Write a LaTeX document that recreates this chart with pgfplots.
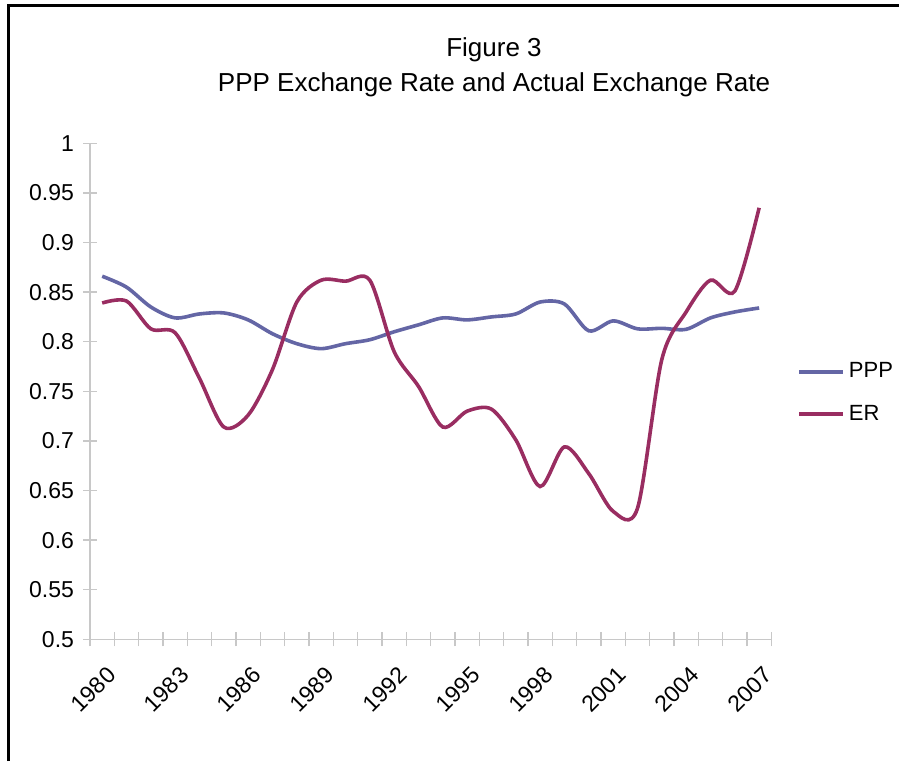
\documentclass[border=0pt]{standalone}
\usepackage{pgfplots}
\pgfplotsset{compat=1.18}
\usepackage{fontspec}
\setmainfont{Liberation Sans}
\definecolor{pppc}{RGB}{100,102,165}
\definecolor{erc}{RGB}{153,45,97}
\definecolor{axc}{RGB}{200,200,200}
\begin{document}
\begin{tikzpicture}
\path[use as bounding box] (0,0) rectangle (449.5pt,380.5pt);
\draw[line width=1.4pt] (4.25pt,0) -- (4.25pt,377.75pt) -- (449.5pt,377.75pt);
\node[align=center, font=\fontsize{13}{17.5}\selectfont] at (247pt,347pt) {Figure 3\\PPP Exchange Rate and Actual Exchange Rate};
\begin{axis}[
  at={(45pt,60.85pt)}, anchor=south west,
  scale only axis, width=340.65pt, height=248pt,
  xmin=1979.5, xmax=2007.5, ymin=0.5, ymax=1,
  axis x line*=bottom, axis y line*=left,
  axis line style={draw=axc, line width=0.75pt, -},
  xtick={1979.5,1980.5,...,2007.5}, xticklabels={},
  extra x ticks={1980,1983,1986,1989,1992,1995,1998,2001,2004,2007},
  extra x tick labels={1980,1983,1986,1989,1992,1995,1998,2001,2004,2007},
  extra x tick style={major tick length=0pt, tick label style={rotate=45, anchor=north east, yshift=-7pt, xshift=-4.5pt}},
  ytick={0.5,0.55,0.6,0.65,0.7,0.75,0.8,0.85,0.9,0.95,1},
  yticklabels={0.5,0.55,0.6,0.65,0.7,0.75,0.8,0.85,0.9,0.95,1},
  yticklabel style={xshift=-1pt},
  tick style={draw=axc, line width=0.75pt},
  major tick length=7pt, tick align=center,
  ticklabel style={font=\fontsize{11.5}{13}\selectfont},
  legend style={at={(1.0377,0.4966)}, anchor=west, draw=none, fill=none, inner sep=0pt,
    font=\fontsize{11}{13}\selectfont, row sep=8pt, nodes={inner sep=2pt}},
  legend cell align=left,
  legend image code/.code={\draw[#1] (0pt,0pt) -- (22pt,0pt);},
]
\addplot[pppc, line width=1.8pt, smooth] coordinates {
(1980,0.866) (1981,0.855) (1982,0.835) (1983,0.824) (1984,0.828) (1985,0.829)
(1986,0.822) (1987,0.808) (1988,0.798) (1989,0.793) (1990,0.798) (1991,0.802)
(1992,0.810) (1993,0.817) (1994,0.824) (1995,0.822) (1996,0.825) (1997,0.828)
(1998,0.840) (1999,0.838) (2000,0.811) (2001,0.821) (2002,0.813) (2003,0.8135)
(2004,0.8125) (2005,0.824) (2006,0.830) (2007,0.834)};
\addlegendentry{PPP}
\addplot[erc, line width=1.8pt, smooth] coordinates {
(1980,0.839) (1981,0.841) (1982,0.813) (1983,0.809) (1984,0.763) (1985,0.714)
(1986,0.726) (1987,0.772) (1988,0.840) (1989,0.862) (1990,0.861) (1991,0.862)
(1992,0.790) (1993,0.755) (1994,0.714) (1995,0.730) (1996,0.732) (1997,0.701)
(1998,0.654) (1999,0.694) (2000,0.667) (2001,0.629) (2002,0.632) (2003,0.782)
(2004,0.830) (2005,0.862) (2006,0.851) (2007,0.935)};
\addlegendentry{ER}
\end{axis}
\end{tikzpicture}
\end{document}
